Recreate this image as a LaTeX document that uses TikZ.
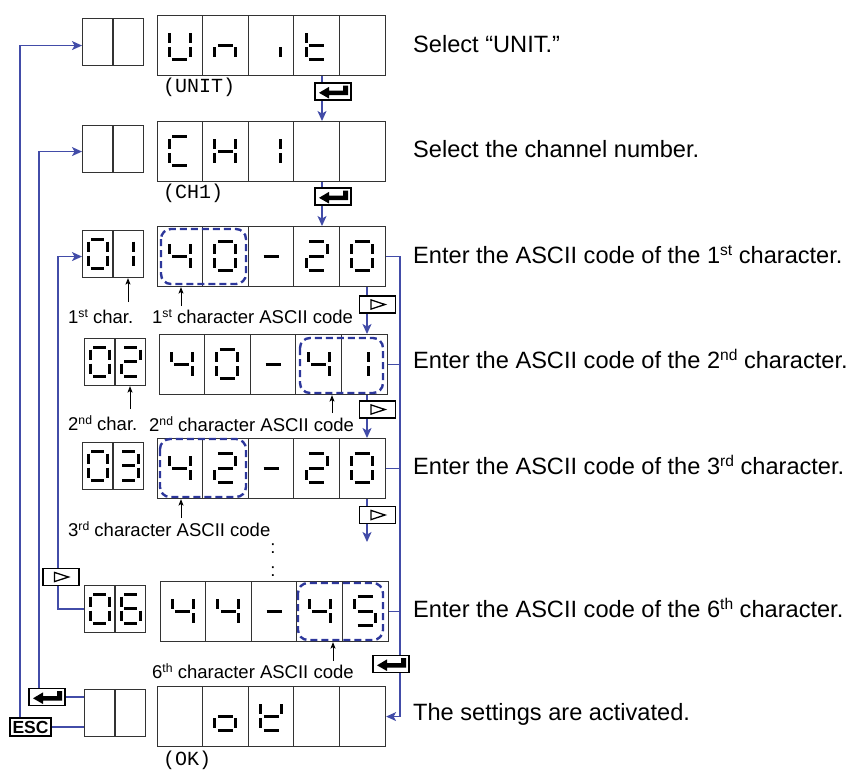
\documentclass[tikz,border=0pt]{standalone}
\usepackage{fontspec}
\usepackage{graphicx}
\setmainfont{Liberation Sans}
\setmonofont{Liberation Mono}
\usetikzlibrary{arrows.meta,calc}
\definecolor{cblue}{RGB}{66,76,168}
\definecolor{dblue}{RGB}{45,55,155}
\tikzset{
 box/.style={draw=black!80,line width=1.1pt},
 conn/.style={draw=cblue,line width=1.3pt},
 tip/.style={-{Stealth[length=10pt,width=9pt,inset=2.5pt]}},
 uparr/.style={draw=black,line width=0.9pt,-{Stealth[length=6.5pt,width=5pt,inset=1.5pt]}},
 seg/.style={line width=3pt,line cap=butt},
 dbox/.style={draw=dblue,line width=2.4pt,dash pattern=on 7pt off 4pt,rounded corners=10pt},
 keybox/.style={draw=black,line width=1.3pt,fill=white,inner sep=0pt,minimum width=36pt,minimum height=17pt},
 bigtxt/.style={anchor=base west,inner sep=0pt,font=\fontsize{23.6}{28}\selectfont},
 smtxt/.style={anchor=base west,inner sep=0pt,font=\fontsize{18.5}{22}\selectfont},
 monotxt/.style={anchor=base west,inner sep=0pt,font=\fontsize{20}{24}\selectfont\ttfamily},
}
\newcommand\sups[1]{\raisebox{0.3em}{\scalebox{0.66}{#1}}}
% seven segment pieces
\newcommand\dsega[1]{\draw[seg] (-#1+3,-14.5) -- (#1-3,-14.5);}
\newcommand\dsegb[1]{\draw[seg] (#1,-12) -- (#1,-2);}
\newcommand\dsegc[1]{\draw[seg] (#1,2) -- (#1,12);}
\newcommand\dsegd[1]{\draw[seg] (-#1+3,14.5) -- (#1-3,14.5);}
\newcommand\dsege[1]{\draw[seg] (-#1,2) -- (-#1,12);}
\newcommand\dsegf[1]{\draw[seg] (-#1,-12) -- (-#1,-2);}
\newcommand\dsegg[1]{\draw[seg] (-#1+3,0) -- (#1-3,0);}
\newcommand\sevseg[4]{\begin{scope}[shift={(#1,#2)}]\foreach \s in {#4}{\csname dseg\s\endcsname{#3}}\end{scope}}
\newcommand\mdig[4]{\sevseg{#1+22.8+45.6*#2}{#3}{10.5}{#4}}
\newcommand\mdigw[5]{\sevseg{#1+22.8+45.6*#2}{#3}{#5}{#4}}
\newcommand\ldig[4]{\sevseg{#1+15.5+31*#2}{#3}{9.5}{#4}}
\newcommand\ldigw[5]{\sevseg{#1+15.5+31*#2}{#3}{#5}{#4}}
\newcommand\mainbox[3]{\node[box,minimum width=228pt,minimum height=60pt,inner sep=0pt,anchor=north west] (#1) at (#2,#3) {};
 \foreach \k in {1,2,3,4}{\draw[box] ($(#1.north west)+(45.6*\k,0)$) -- ($(#1.south west)+(45.6*\k,0)$);}}
\newcommand\leftbox[3]{\node[box,minimum width=61pt,minimum height=47pt,inner sep=0pt,anchor=north west] (#1) at (#2,#3) {};
 \draw[box] ($(#1.north west)+(31,0)$) -- ($(#1.south west)+(31,0)$);}
\newcommand\enterkey[3]{\node[keybox] (#1) at (#2,#3) {};
 \begin{scope}[shift={(#1.center)}]\fill[black] (-14,1.3) -- (-4,-4.6) -- (-4,-1) -- (10,-1) -- (10,-6) -- (15,-6) -- (15,3.6) -- (-4,3.6) -- (-4,7) -- cycle;\end{scope}}
\newcommand\playkey[3]{\node[keybox] (#1) at (#2,#3) {};
 \begin{scope}[shift={(#1.center)}]\draw[line width=1.3pt,line join=miter] (-6.5,-4.6) -- (7.5,0) -- (-6.5,4.6) -- cycle;\end{scope}}

\begin{document}
\begin{tikzpicture}[x=1pt,y=-1pt]
\useasboundingbox (0,0) rectangle (853,769);
\coordinate (colA) at (322,0);
\coordinate (colB) at (367,0);
\coordinate (bus) at (400,0);
\coordinate (lx1) at (20,0);
\coordinate (lx2) at (39,0);
\coordinate (lx3) at (58,0);

% ---- boxes
\mainbox{M1}{157}{15}
\mainbox{M2}{157}{121}
\mainbox{M3}{157}{226}
\mainbox{M4}{159}{334}
\mainbox{M5}{157}{438}
\mainbox{M6}{160}{581}
\mainbox{M7}{157}{686}
\leftbox{L1}{82}{18}
\leftbox{L2}{82}{125}
\leftbox{L3}{82}{230}
\leftbox{L4}{84}{338}
\leftbox{L5}{82}{442}
\leftbox{L6}{84}{585}
\leftbox{L7}{84}{689}

% ---- digits
\mdig{157}{0}{45}{b,c,d,e,f}
\mdig{157}{1}{45}{c,e,g}
\mdigw{157}{2}{45}{c}{9}
\mdig{157}{3}{45}{d,e,f,g}

\mdig{157}{0}{151}{a,d,e,f}
\mdig{157}{1}{151}{b,c,e,f,g}
\mdigw{157}{2}{151}{b,c}{9}

\ldig{82}{0}{253.5}{a,b,c,d,e,f}
\ldigw{82}{1}{253.5}{b,c}{4.5}
\mdig{157}{0}{256}{f,g,b,c}
\mdig{157}{1}{256}{a,b,c,d,e,f}
\mdig{157}{2}{256}{g}
\mdig{157}{3}{256}{a,b,g,e,d}
\mdig{157}{4}{256}{a,b,c,d,e,f}

\ldig{84}{0}{361.5}{a,b,c,d,e,f}
\ldig{84}{1}{361.5}{a,b,g,e,d}
\mdig{159}{0}{364}{f,g,b,c}
\mdig{159}{1}{364}{a,b,c,d,e,f}
\mdig{159}{2}{364}{g}
\mdig{159}{3}{364}{f,g,b,c}
\mdigw{159}{4}{364}{b,c}{4.5}

\ldig{82}{0}{465.5}{a,b,c,d,e,f}
\ldig{82}{1}{465.5}{a,b,g,c,d}
\mdig{157}{0}{468}{f,g,b,c}
\mdig{157}{1}{468}{a,b,g,e,d}
\mdig{157}{2}{468}{g}
\mdig{157}{3}{468}{a,b,g,e,d}
\mdig{157}{4}{468}{a,b,c,d,e,f}

\ldig{84}{0}{608.5}{a,b,c,d,e,f}
\ldig{84}{1}{608.5}{a,f,g,e,d,c}
\mdig{160}{0}{611}{f,g,b,c}
\mdig{160}{1}{611}{f,g,b,c}
\mdig{160}{2}{611}{g}
\mdig{160}{3}{611}{f,g,b,c}
\mdig{160}{4}{611}{a,f,g,c,d}

\mdig{157}{1}{716}{c,d,e,g}
\mdig{157}{2}{716}{b,d,e,f,g}

% ---- dashed selection frames
\draw[dbox] (161,229) rectangle (246,284);
\draw[dbox] (300,338) rectangle (383,393);
\draw[dbox] (160,439) rectangle (246,497);
\draw[dbox] (298,583) rectangle (383,640);

% ---- blue connectors
\coordinate (end5) at (367,542);
\draw[conn,tip] (M1.south -| colA) -- (M2.north -| colA);
\draw[conn,tip] (M2.south -| colA) -- (M3.north -| colA);
\draw[conn,tip] (M3.south -| colB) -- (M4.north -| colB);
\draw[conn,tip] (M4.south -| colB) -- (M5.north -| colB);
\draw[conn,tip] (M5.south -| colB) -- (end5);
\draw[conn,tip] (M3.east) -- (M3.east -| bus) -- (M7.east -| bus) -- (M7.east);
\draw[conn] (M4.east) -- (M4.east -| bus);
\draw[conn] (M5.east) -- (M5.east -| bus);
\draw[conn] (M6.east) -- (M6.east -| bus);

% keys
\enterkey{ek1}{333}{91.5}
\enterkey{ek2}{333}{196.5}
\playkey{pk3}{377.5}{304.5}
\playkey{pk4}{377.5}{409.5}
\playkey{pk5}{377.5}{515}
\enterkey{ekR}{391}{664}
\node[keybox,minimum width=41pt,minimum height=18pt,font=\fontsize{17.5}{20}\selectfont\bfseries] (esc) at (30.5,727) {ESC};
\enterkey{ekL}{47}{697}

\draw[conn,tip] (esc.north -| lx1) |- (L1.west |- M1.west);
\draw[conn,tip] (ekL.north -| lx2) |- (L2.west |- M2.west);
\draw[conn,tip] (L6.west) -| (M3.west -| lx3) -- (L3.west |- M3.west);
\draw[conn] (L7.west |- ekL.east) -- (ekL.east);
\draw[conn] (L7.west |- esc.east) -- (esc.east);
\playkey{pkL}{61}{577}

% ---- black pointer arrows
\coordinate (u3a) at (128,302);
\coordinate (u3b) at (181,306);
\coordinate (u4a) at (130,409);
\coordinate (u4b) at (332,413);
\coordinate (u5b) at (181,518);
\coordinate (u6b) at (333,661);
\draw[uparr] (u3a) -- (u3a |- L3.south);
\draw[uparr] (u3b) -- (u3b |- M3.south);
\draw[uparr] (u4a) -- (u4a |- L4.south);
\draw[uparr] (u4b) -- (u4b |- M4.south);
\draw[uparr] (u5b) -- (u5b |- M5.south);
\draw[uparr] (u6b) -- (u6b |- M6.south);

% ---- labels
\node[monotxt] (lu) at (163,92) {(UNIT)};
\node[monotxt] (lc) at (163,198) {(CH1)};
\node[monotxt] (lo) at (163,765) {(OK)};
\node[smtxt] (s1) at (68,323) {1\sups{st} char.};
\node[smtxt] (s2) at (152,323) {1\sups{st} character ASCII code};
\node[smtxt] (s3) at (68,430) {2\sups{nd} char.};
\node[smtxt] (s4) at (149,431) {2\sups{nd} character ASCII code};
\node[smtxt] (s5) at (68,536) {3\sups{rd} character ASCII code};
\node[smtxt] (s6) at (152,678) {6\sups{th} character ASCII code};
\node[font=\fontsize{18.5}{22}\selectfont,inner sep=0pt] (dots1) at (273,549) {:};
\node[font=\fontsize{18.5}{22}\selectfont,inner sep=0pt] (dots2) at (273,572) {:};

\node[bigtxt] (t1) at (413,52) {Select “UNIT.”};
\node[bigtxt] (t2) at (413,157) {Select the channel number.};
\node[bigtxt] (t3) at (413,263) {Enter the ASCII code of the 1\sups{st} character.};
\node[bigtxt] (t4) at (413,368) {Enter the ASCII code of the 2\sups{nd} character.};
\node[bigtxt] (t5) at (413,474) {Enter the ASCII code of the 3\sups{rd} character.};
\node[bigtxt] (t6) at (413,617) {Enter the ASCII code of the 6\sups{th} character.};
\node[bigtxt] (t7) at (413,720) {The settings are activated.};
\end{tikzpicture}
\end{document}
